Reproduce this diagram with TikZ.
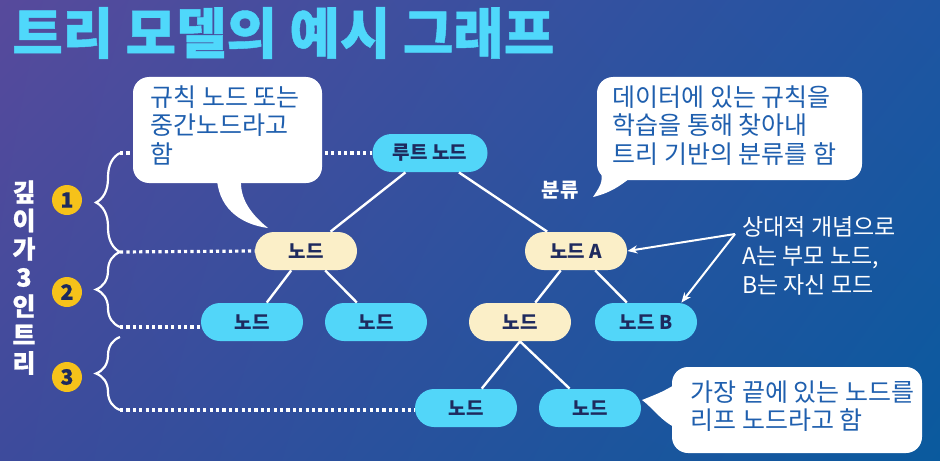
\documentclass[tikz,border=0pt]{standalone}
\usepackage{fontspec}
\setmainfont{Noto Sans CJK KR}
\newfontfamily\heavyfont{Noto Sans CJK KR}[BoldFeatures={FakeBold=0.8}]
\usetikzlibrary{arrows.meta, decorations.pathreplacing, shadings}

\definecolor{bgTL}{HTML}{574A9C}
\definecolor{bgTR}{HTML}{1F55A2}
\definecolor{bgBL}{HTML}{3D4B9C}
\definecolor{bgBR}{HTML}{0A5A9E}
\definecolor{skyfill}{HTML}{52D6F9}
\definecolor{creamfill}{HTML}{FBEFC8}
\definecolor{navytext}{HTML}{1E2A5E}
\definecolor{titlecyan}{HTML}{4FD8FB}
\definecolor{calloutblue}{HTML}{1F5FAE}
\definecolor{markyellow}{HTML}{F6C21A}

\begin{document}
\begin{tikzpicture}[
    x=0.5pt, y=-0.5pt,
    treenode/.style={rounded corners=9.5pt, minimum height=19pt, minimum width=51pt, inner sep=0pt,
        font=\bfseries\fontsize{9.5}{11}\selectfont, text=navytext},
    leafnode/.style={treenode, fill=skyfill},
    innode/.style={treenode, fill=creamfill},
    branch/.style={draw=white, line width=1.2pt},
    levelline/.style={draw=white, line width=1.6pt, dash pattern=on 1.6pt off 1.6pt},
    depthbrace/.style={draw=white, line width=1.1pt, decorate, decoration={brace, amplitude=12pt}},
    depthmark/.style={circle, fill=markyellow, minimum size=15pt, inner sep=0pt,
        font=\heavyfont\bfseries\fontsize{10.5}{12}\selectfont, text=navytext},
    callout/.style={fill=white, rounded corners=8pt},
    callouttext/.style={text=calloutblue, align=left, anchor=north west, inner sep=0pt,
        font=\fontsize{12.5}{14.3}\selectfont},
    notetext/.style={text=white, align=left, anchor=north west, inner sep=0pt,
        font=\fontsize{11.5}{14.6}\selectfont},
    pointer/.style={-{Stealth[length=5pt, width=4pt]}, draw=white, line width=1pt},
]

% background
\useasboundingbox (0,0) rectangle (940,460);
\shade[upper left=bgTL, upper right=bgTR, lower left=bgBL, lower right=bgBR] (0,0) rectangle (940,460);

% title
\node[anchor=west, inner sep=0pt, text=titlecyan, font=\heavyfont\bfseries\fontsize{27.4}{30}\selectfont] (title) at (12,33) {트리 모델의 예시 그래프};

% tree nodes
\node[leafnode, minimum width=57.5pt] (root) at (430,153) {루트 노드};
\node[innode] (rule) at (306,251) {노드};
\node[innode] (nodeA) at (576,251) {노드 A};
\node[leafnode] (leftA) at (252,322) {노드};
\node[leafnode] (leftB) at (376,322) {노드};
\node[innode] (mid) at (520,322) {노드};
\node[leafnode] (nodeB) at (646,322) {노드 B};
\node[leafnode] (leafA) at (466,408) {노드};
\node[leafnode] (leafB) at (590,408) {노드};

% branches
\draw[branch] (root) -- (rule);
\draw[branch] (root) -- (nodeA);
\draw[branch] (rule) -- (leftA);
\draw[branch] (rule) -- (leftB);
\draw[branch] (nodeA) -- (mid);
\draw[branch] (nodeA) -- (nodeB);
\draw[branch] (mid.south) -- (leafA);
\draw[branch] (mid.south) -- (leafB);

\node[text=white, font=\bfseries\fontsize{10}{12}\selectfont] (split) at (560,190) {분류};

% depth levels
\coordinate (lv0) at (120,153);
\coordinate (lv1) at (120,252);
\coordinate (lv2) at (120,327);
\coordinate (lv2b) at (120,337);
\coordinate (lv3) at (120,410);
\draw[levelline] (lv0) -- (root.west);
\draw[levelline] (lv1) -- (rule.west);
\draw[levelline] (lv2) -- (leftA.west |- lv2);
\draw[levelline] (lv3) -- (leafA.west |- lv3);

\draw[depthbrace] (lv1) -- (lv0);
\draw[depthbrace] (lv2) -- (lv1);
\draw[depthbrace] (lv3) -- (lv2b);

\node[depthmark] (d1) at (67,200) {1};
\node[depthmark] (d2) at (67,292) {2};
\node[depthmark] (d3) at (67,377) {3};

\foreach \ch [count=\i from 0] in {깊,이,가,3,인,트,리}
    \node[text=white, font=\heavyfont\bfseries\fontsize{12.5}{13}\selectfont] (depth\i) at (24,192+28.5*\i) {\ch};

% callouts
\fill[callout] (133,77) rectangle (322,183);
\fill[white] (217,180) .. controls (220,212) and (245,225) .. (268,228) .. controls (252,215) and (240,200) .. (241,180) -- cycle;
\node[callouttext] (ruletext) at (150,85) {규칙 노드 또는\\중간노드라고\\함};

\fill[callout] (597,77) rectangle (862,180);
\fill[white] (600,160) .. controls (603,182) .. (593,197) .. controls (610,193) and (620,186) .. (630,178) -- cycle;
\node[callouttext] (learntext) at (612,85) {데이터에 있는 규칙을\\학습을 통해 찾아내\\트리 기반의 분류를 함};

\fill[callout] (672,367) rectangle (922,453);
\fill[white] (676,384) .. controls (662,392) .. (642,400) .. controls (655,410) and (660,420) .. (676,428) -- cycle;
\node[callouttext] (leaftext) at (690,380) {가장 끝에 있는 노드를\\리프 노드라고 함};

% relative note
\node[notetext] (note) at (742,216) {상대적 개념으로\\A는 부모 노드,\\B는 자신 모드};
\coordinate (notetip) at (735,234);
\draw[pointer] (notetip) -- (nodeA.east);
\draw[pointer] (notetip) -- ([xshift=-8pt]nodeB.north east);

\end{tikzpicture}
\end{document}
